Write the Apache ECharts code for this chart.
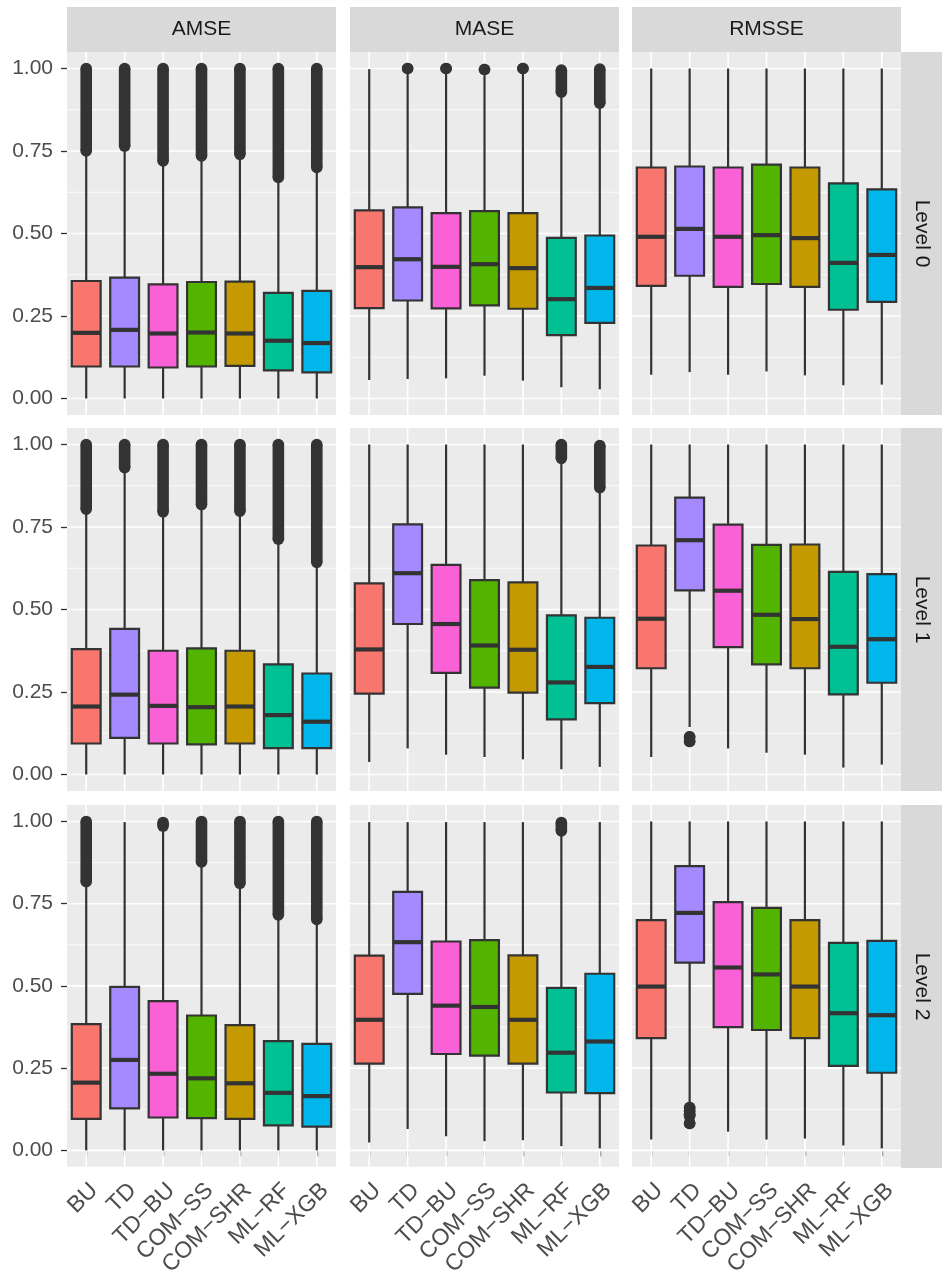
<!DOCTYPE html>
<html>
<head>
<meta charset="utf-8">
<script src="https://cdn.jsdelivr.net/npm/echarts@6/dist/echarts.min.js"></script>
<style>html,body{margin:0;padding:0;background:#fff}#c{width:942px;height:1279px}</style>
</head>
<body>
<div id="c"></div>
<script>
// ---------- data ----------
const categories = ['BU', 'TD', 'TD\u2212BU', 'COM\u2212SS', 'COM\u2212SHR', 'ML\u2212RF', 'ML\u2212XGB'];
const metrics = ['AMSE', 'MASE', 'RMSSE'];
const levels = ['Level 0', 'Level 1', 'Level 2'];
const fills = ['#F8766D', '#A58AFF', '#FB61D7', '#53B400', '#C49A00', '#00C094', '#00B6EB'];
const majorTicks = [0, 0.25, 0.5, 0.75, 1];
const minorTicks = [0.125, 0.375, 0.625, 0.875];

// box stats per category: [lower whisker, Q1, median, Q3, upper whisker]
const amse_L0 = [[0, 0.097, 0.199, 0.356, 0.74], [0, 0.097, 0.208, 0.366, 0.76], [0, 0.094, 0.197, 0.346, 0.71], [0, 0.097, 0.200, 0.353, 0.725], [0, 0.099, 0.197, 0.354, 0.73], [0, 0.085, 0.175, 0.320, 0.66], [0, 0.079, 0.168, 0.326, 0.69]];
const amse_L1 = [[0, 0.094, 0.206, 0.380, 0.80], [0, 0.111, 0.242, 0.441, 0.92], [0, 0.094, 0.208, 0.375, 0.79], [0, 0.091, 0.204, 0.382, 0.81], [0, 0.094, 0.206, 0.375, 0.79], [0, 0.080, 0.180, 0.334, 0.705], [0, 0.080, 0.160, 0.306, 0.635]];
const amse_L2 = [[0, 0.096, 0.206, 0.384, 0.81], [0, 0.128, 0.275, 0.497, 0.998], [0, 0.100, 0.233, 0.454, 0.98], [0, 0.098, 0.219, 0.410, 0.87], [0, 0.096, 0.204, 0.381, 0.805], [0, 0.076, 0.175, 0.332, 0.71], [0, 0.072, 0.165, 0.324, 0.695]];
const mase_L0 = [[0.056, 0.274, 0.398, 0.570, 0.998], [0.059, 0.297, 0.422, 0.579, 0.985], [0.061, 0.273, 0.399, 0.562, 0.985], [0.069, 0.282, 0.407, 0.568, 0.98], [0.054, 0.272, 0.395, 0.562, 0.985], [0.034, 0.192, 0.301, 0.487, 0.92], [0.028, 0.229, 0.335, 0.494, 0.89]];
const mase_L1 = [[0.038, 0.245, 0.379, 0.579, 1.0], [0.079, 0.456, 0.610, 0.758, 1.0], [0.060, 0.308, 0.456, 0.635, 1.0], [0.053, 0.263, 0.391, 0.589, 1.0], [0.046, 0.248, 0.378, 0.582, 1.0], [0.016, 0.167, 0.279, 0.482, 0.95], [0.023, 0.216, 0.326, 0.475, 0.86]];
const mase_L2 = [[0.024, 0.264, 0.397, 0.592, 0.998], [0.065, 0.476, 0.633, 0.786, 0.998], [0.043, 0.293, 0.440, 0.635, 0.998], [0.028, 0.288, 0.436, 0.639, 0.998], [0.031, 0.264, 0.397, 0.593, 0.998], [0.013, 0.176, 0.297, 0.494, 0.965], [0.006, 0.174, 0.331, 0.537, 0.998]];
const rmsse_L0 = [[0.072, 0.341, 0.490, 0.700, 1.0], [0.080, 0.372, 0.514, 0.703, 1.0], [0.072, 0.338, 0.490, 0.700, 1.0], [0.082, 0.347, 0.495, 0.709, 1.0], [0.070, 0.338, 0.486, 0.700, 1.0], [0.040, 0.269, 0.411, 0.652, 1.0], [0.042, 0.293, 0.435, 0.634, 1.0]];
const rmsse_L1 = [[0.053, 0.322, 0.472, 0.694, 1.0], [0.144, 0.558, 0.710, 0.839, 1.0], [0.079, 0.386, 0.557, 0.757, 1.0], [0.066, 0.334, 0.484, 0.696, 1.0], [0.060, 0.322, 0.471, 0.697, 1.0], [0.021, 0.243, 0.387, 0.614, 1.0], [0.030, 0.278, 0.410, 0.607, 1.0]];
const rmsse_L2 = [[0.033, 0.341, 0.498, 0.700, 1.0], [0.135, 0.571, 0.722, 0.864, 1.0], [0.057, 0.375, 0.556, 0.755, 1.0], [0.033, 0.366, 0.535, 0.737, 1.0], [0.036, 0.341, 0.498, 0.700, 1.0], [0.015, 0.257, 0.417, 0.631, 1.0], [0.006, 0.236, 0.411, 0.637, 1.0]];

// outliers: [category index, lowest outlier, highest outlier] (dense runs of points)
const amse_L0_out = [[0, 0.75, 1.0], [1, 0.765, 1.0], [2, 0.72, 1.0], [3, 0.735, 1.0], [4, 0.74, 1.0], [5, 0.67, 1.0], [6, 0.70, 1.0]];
const amse_L1_out = [[0, 0.804, 1.0], [1, 0.93, 1.0], [2, 0.796, 1.0], [3, 0.818, 1.0], [4, 0.798, 1.0], [5, 0.713, 1.0], [6, 0.643, 1.0]];
const amse_L2_out = [[0, 0.817, 1.0], [2, 0.986, 0.997], [3, 0.877, 1.0], [4, 0.812, 1.0], [5, 0.716, 1.0], [6, 0.702, 1.0]];
const mase_L0_out = [[1, 1.0, 1.0], [2, 1.0, 1.0], [3, 0.997, 0.997], [4, 1.0, 1.0], [5, 0.928, 0.995], [6, 0.895, 0.998]];
const mase_L1_out = [[5, 0.958, 1.0], [6, 0.869, 0.997]];
const mase_L2_out = [[5, 0.971, 0.997]];
const rmsse_L0_out = [];
const rmsse_L1_out = [[1, 0.114, 0.114], [1, 0.100, 0.100]];
const rmsse_L2_out = [[1, 0.130, 0.130], [1, 0.120, 0.120], [1, 0.110, 0.110], [1, 0.105, 0.105], [1, 0.082, 0.082]];

const panels = [
  [amse_L0, mase_L0, rmsse_L0],
  [amse_L1, mase_L1, rmsse_L1],
  [amse_L2, mase_L2, rmsse_L2]
];
const panelOutliers = [
  [amse_L0_out, mase_L0_out, rmsse_L0_out],
  [amse_L1_out, mase_L1_out, rmsse_L1_out],
  [amse_L2_out, mase_L2_out, rmsse_L2_out]
];

// ---------- layout ----------
const colLeft = [67, 350, 632];
const panelW = 269;
const rowTop = [52, 428, 805];
const panelH = 363;
const FONT = '"Liberation Sans", Arial, Helvetica, sans-serif';
const INK = '#333333';

function renderGridLines(params, api) {
  const cs = params.coordSys;
  const kind = api.value(2);
  if (kind === 1) {
    const p = api.coord([api.value(0), 0]);
    return {type: 'line', shape: {x1: p[0], y1: cs.y, x2: p[0], y2: cs.y + cs.height}, style: {stroke: '#ffffff', lineWidth: 1.6}};
  }
  const p = api.coord([0, api.value(1)]);
  return {type: 'line', shape: {x1: cs.x, y1: p[1], x2: cs.x + cs.width, y2: p[1]}, style: {stroke: '#ffffff', lineWidth: kind === 0 ? 1.6 : 0.8}};
}

function renderBox(params, api) {
  const i = api.value(0);
  const lo = api.coord([i, api.value(1)]);
  const q1 = api.coord([i, api.value(2)]);
  const md = api.coord([i, api.value(3)]);
  const q3 = api.coord([i, api.value(4)]);
  const hi = api.coord([i, api.value(5)]);
  const bw = api.size([1, 0])[0] * 0.75;
  const cx = lo[0];
  const lw = 2.2;
  return {
    type: 'group',
    children: [
      {type: 'line', shape: {x1: cx, y1: hi[1], x2: cx, y2: q3[1]}, style: {stroke: INK, lineWidth: lw}},
      {type: 'line', shape: {x1: cx, y1: q1[1], x2: cx, y2: lo[1]}, style: {stroke: INK, lineWidth: lw}},
      {type: 'rect', shape: {x: cx - bw / 2, y: q3[1], width: bw, height: q1[1] - q3[1]}, style: {fill: fills[i], stroke: INK, lineWidth: lw}},
      {type: 'line', shape: {x1: cx - bw / 2, y1: md[1], x2: cx + bw / 2, y2: md[1]}, style: {stroke: INK, lineWidth: 4.2}}
    ]
  };
}

function renderOutliers(params, api) {
  const i = api.value(0);
  const a = api.coord([i, api.value(1)]);
  const b = api.coord([i, api.value(2)]);
  const r = 5.8;
  const children = [
    {type: 'circle', shape: {cx: a[0], cy: a[1], r: r}, style: {fill: INK}},
    {type: 'circle', shape: {cx: b[0], cy: b[1], r: r}, style: {fill: INK}}
  ];
  if (Math.abs(a[1] - b[1]) > 0.5) {
    children.push({type: 'rect', shape: {x: a[0] - r, y: Math.min(a[1], b[1]), width: 2 * r, height: Math.abs(a[1] - b[1])}, style: {fill: INK}});
  }
  return {type: 'group', children: children};
}

const grids = [], xAxes = [], yAxes = [], series = [], graphics = [];
const gridData = [];
majorTicks.forEach(v => gridData.push([0, v, 0]));
minorTicks.forEach(v => gridData.push([0, v, 2]));
categories.forEach((c, i) => gridData.push([i, 0, 1]));

for (let r = 0; r < 3; r++) {
  for (let c = 0; c < 3; c++) {
    const idx = r * 3 + c;
    grids.push({left: colLeft[c], top: rowTop[r], width: panelW, height: panelH, show: true, backgroundColor: '#EBEBEB', borderWidth: 0});
    xAxes.push({
      type: 'category', gridIndex: idx, data: categories,
      axisLine: {show: false},
      axisTick: {show: r === 2, alignWithLabel: true, length: 6, lineStyle: {color: INK, width: 1.3}},
      axisLabel: {show: r === 2, rotate: 45, interval: 0, margin: 12, align: 'right', verticalAlign: 'top',
        color: '#4D4D4D', fontSize: 23, fontFamily: FONT},
      splitLine: {show: false}
    });
    yAxes.push({
      type: 'value', gridIndex: idx, min: -0.05, max: 1.05,
      axisLine: {show: false},
      axisTick: {show: c === 0, length: 6, customValues: majorTicks, lineStyle: {color: INK, width: 1.3}},
      axisLabel: {show: c === 0, customValues: majorTicks, margin: 14, color: '#4D4D4D', fontSize: 21, fontFamily: FONT, formatter: v => v.toFixed(2)},
      splitLine: {show: false}
    });
    series.push({
      type: 'custom', coordinateSystem: 'cartesian2d', xAxisIndex: idx, yAxisIndex: idx,
      renderItem: renderGridLines, data: gridData, encode: {x: 0, y: 1}, z: 1, silent: true
    });
    series.push({
      type: 'custom', coordinateSystem: 'cartesian2d', xAxisIndex: idx, yAxisIndex: idx,
      renderItem: renderBox, encode: {x: 0, y: [1, 2, 3, 4, 5]}, z: 3, silent: true,
      data: panels[r][c].map((s, i) => [i].concat(s))
    });
    series.push({
      type: 'custom', coordinateSystem: 'cartesian2d', xAxisIndex: idx, yAxisIndex: idx,
      renderItem: renderOutliers, encode: {x: 0, y: [1, 2]}, z: 4, silent: true,
      data: panelOutliers[r][c]
    });
  }
}

// facet strips
for (let c = 0; c < 3; c++) {
  graphics.push({type: 'rect', shape: {x: colLeft[c], y: 7, width: panelW, height: 45}, style: {fill: '#D9D9D9'}, silent: true});
  graphics.push({type: 'text', x: colLeft[c] + panelW / 2, y: 29.5, silent: true,
    style: {text: metrics[c], fill: '#1A1A1A', fontSize: 21, fontFamily: FONT, align: 'center', verticalAlign: 'middle'}});
}
for (let r = 0; r < 3; r++) {
  graphics.push({type: 'rect', shape: {x: 901, y: rowTop[r], width: 41, height: panelH}, style: {fill: '#D9D9D9'}, silent: true});
  graphics.push({type: 'text', x: 921.5, y: rowTop[r] + panelH / 2, rotation: -Math.PI / 2, silent: true,
    style: {text: levels[r], fill: '#1A1A1A', fontSize: 21, fontFamily: FONT, align: 'center', verticalAlign: 'middle'}});
}

const chart = echarts.init(document.getElementById('c'), null, {renderer: 'canvas'});
chart.setOption({
  backgroundColor: '#ffffff',
  animation: false,
  grid: grids,
  xAxis: xAxes,
  yAxis: yAxes,
  series: series,
  graphic: graphics
});
</script>
</body>
</html>
